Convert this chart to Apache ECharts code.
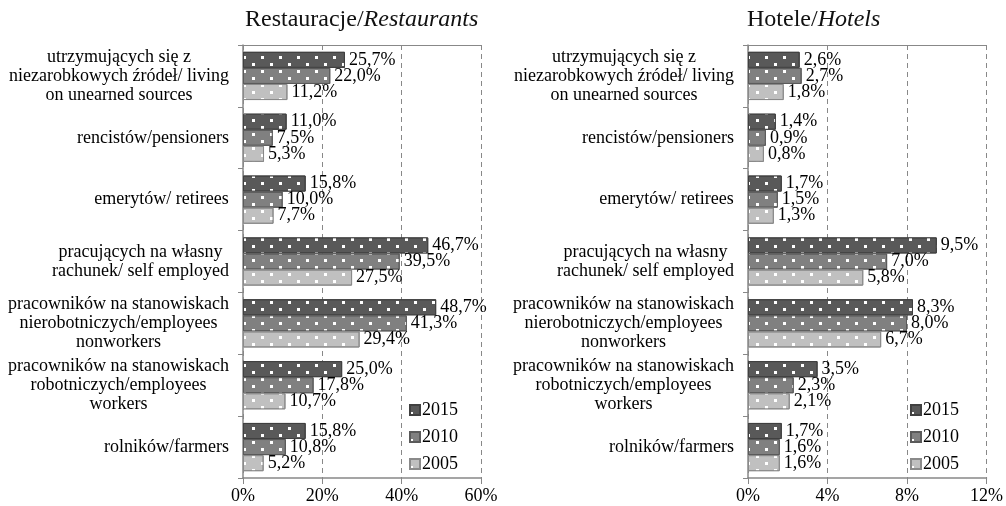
<!DOCTYPE html>
<html>
<head>
<meta charset="utf-8">
<script src="https://cdn.jsdelivr.net/npm/echarts@6/dist/echarts.min.js"></script>
<style>
  html, body { margin: 0; padding: 0; background: #fff; }
  #chart { width: 1006px; height: 506px; }
</style>
</head>
<body>
<div id="chart"></div>
<script>
// kategorie (od góry)
const categories = [
  'utrzymujących się z\nniezarobkowych źródeł/ living\non unearned sources',
  'rencistów/pensioners',
  'emerytów/ retirees',
  'pracujących na własny\nrachunek/ self employed',
  'pracowników na stanowiskach\nnierobotniczych/employees\nnonworkers',
  'pracowników na stanowiskach\nrobotniczych/employees\nworkers',
  'rolników/farmers'
]
const years = ['2015', '2010', '2005']

// Restauracje
const rest2015 = [25.7, 11.0, 15.8, 46.7, 48.7, 25.0, 15.8]
const rest2010 = [22.0, 7.5, 10.0, 39.5, 41.3, 17.8, 10.8]
const rest2005 = [11.2, 5.3, 7.7, 27.5, 29.4, 10.7, 5.2]

// Hotele
const hotel2015 = [2.6, 1.4, 1.7, 9.5, 8.3, 3.5, 1.7]
const hotel2010 = [2.7, 0.9, 1.5, 7.0, 8.0, 2.3, 1.6]
const hotel2005 = [1.8, 0.8, 1.3, 5.8, 6.7, 2.1, 1.6]

const restTicks = { min: 0, max: 60, interval: 20 }
const hotelTicks = { min: 0, max: 12, interval: 4 }

const FONT = '"Liberation Serif", "Times New Roman", serif'
const FS = 18
const colors = ['#595959', '#808080', '#c0c0c0']
const borders = ['#404040', '#5a5a5a', '#8a8a8a']

// szerokosc bloku tekstu - wiersze centrowane w bloku
const ctx = document.createElement('canvas').getContext('2d')
ctx.font = FS + 'px ' + FONT
const rich = {}
categories.forEach((c, i) => {
  const w = Math.max(...c.split('\n').map(l => ctx.measureText(l).width))
  rich['c' + i] = { width: Math.ceil(w), align: 'center', fontFamily: FONT, fontSize: FS, lineHeight: 19, color: '#000' }
})

function catLabel(value) {
  const i = categories.indexOf(value)
  return value.split('\n').map(l => '{c' + i + '|' + l + '}').join('\n')
}

function pct(v) {
  return v.toFixed(1).replace('.', ',') + '%'
}

const decal = {
  symbol: 'rect',
  symbolSize: 1,
  color: '#ffffff',
  dashArrayX: [[3, 15], [0, 9, 3, 6]],
  dashArrayY: [3, 4]
}

function makeSeries(data, idx, gridIdx) {
  return {
    name: years[idx],
    type: 'bar',
    xAxisIndex: gridIdx * 2,
    yAxisIndex: gridIdx,
    data: data,
    barGap: '0%',
    barCategoryGap: '22%',
    itemStyle: { color: colors[idx], borderColor: borders[idx], borderWidth: 1, decal: decal },
    label: {
      show: true,
      position: 'right',
      distance: 4,
      fontFamily: FONT,
      fontSize: FS,
      color: '#000',
      formatter: p => pct(p.value)
    }
  }
}

function valueAxis(gridIdx, ticks) {
  return {
    type: 'value',
    gridIndex: gridIdx,
    min: ticks.min,
    max: ticks.max,
    interval: ticks.interval,
    axisLine: { show: true, lineStyle: { color: '#888', width: 1.5 } },
    axisTick: { show: true, length: 6, lineStyle: { color: '#888' } },
    axisLabel: { fontFamily: FONT, fontSize: FS, color: '#000', margin: 9, formatter: '{value}%' },
    splitLine: { show: true, lineStyle: { type: [5, 4], color: '#888', width: 1 } }
  }
}

function topAxis(gridIdx, ticks) {
  return {
    type: 'value',
    gridIndex: gridIdx,
    position: 'top',
    min: ticks.min,
    max: ticks.max,
    interval: ticks.interval,
    axisLine: { show: true, lineStyle: { color: '#888', width: 1 } },
    axisTick: { show: false },
    axisLabel: { show: false },
    splitLine: { show: false }
  }
}

function catAxis(gridIdx) {
  return {
    type: 'category',
    gridIndex: gridIdx,
    data: categories,
    inverse: true,
    axisLine: { show: true, lineStyle: { color: '#888', width: 1.5 } },
    axisTick: { show: true, length: 5, lineStyle: { color: '#888' } },
    axisLabel: { interval: 0, margin: 14, formatter: catLabel, rich: rich }
  }
}

const legendBase = {
  orient: 'vertical',
  icon: 'rect',
  itemWidth: 10,
  itemHeight: 10,
  itemGap: 9,
  top: 396,
  textStyle: { fontFamily: FONT, fontSize: FS, color: '#000', padding: [0, 0, 0, -3] },
  data: years
}

const titleStyle = {
  fontFamily: FONT, fontSize: 24, fontWeight: 'normal', color: '#111',
  rich: { i: { fontFamily: FONT, fontSize: 24, fontStyle: 'italic', color: '#111' } }
}

const chart = echarts.init(document.getElementById('chart'))
chart.setOption({
  animation: false,
  textStyle: { fontFamily: FONT },
  title: [
    { text: 'Restauracje/{i|Restaurants}', left: 240, top: 3, textStyle: titleStyle },
    { text: 'Hotele/{i|Hotels}', left: 742, top: 3, textStyle: titleStyle }
  ],
  legend: [
    Object.assign({}, legendBase, { left: 404 }),
    Object.assign({}, legendBase, { left: 905 })
  ],
  grid: [
    { left: 243, right: 525, top: 45, bottom: 28 },
    { left: 748, right: 18, top: 45, bottom: 28 }
  ],
  xAxis: [valueAxis(0, restTicks), topAxis(0, restTicks), valueAxis(1, hotelTicks), topAxis(1, hotelTicks)],
  yAxis: [catAxis(0), catAxis(1)],
  series: [
    makeSeries(rest2015, 0, 0),
    makeSeries(rest2010, 1, 0),
    makeSeries(rest2005, 2, 0),
    makeSeries(hotel2015, 0, 1),
    makeSeries(hotel2010, 1, 1),
    makeSeries(hotel2005, 2, 1)
  ]
})
</script>
</body>
</html>
